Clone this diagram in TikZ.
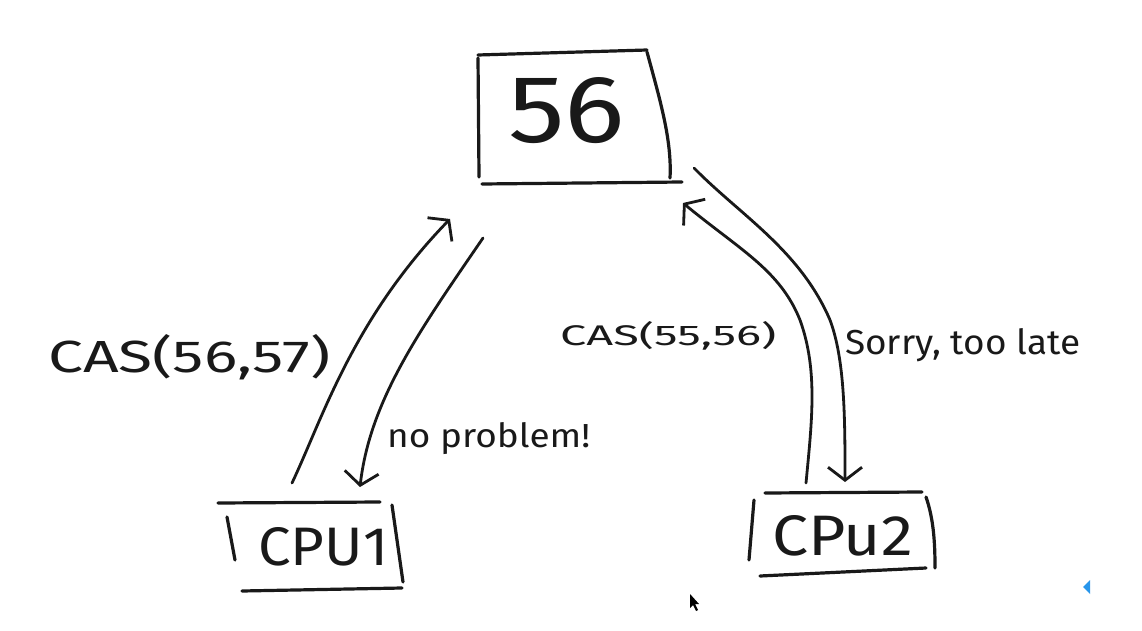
\documentclass[tikz,border=0pt]{standalone}
\usepackage{fontspec}
\setmainfont{Fira Sans}
\usetikzlibrary{arrows.meta}
\definecolor{markblue}{RGB}{40,150,235}
\begin{document}
\begin{tikzpicture}[x=1pt,y=-1pt,
  hand/.style={line width=3.2pt,line cap=round,line join=round,black!90},
  conn/.style={line width=2.8pt,line cap=round,black!90,
    -{Straight Barb[length=13pt,width=34pt,line width=2.8pt]}},
  txt/.style={anchor=base west,inner sep=0pt,text=black!90}]
\useasboundingbox (0,0) rectangle (1142,631);
\fill[white] (0,0) rectangle (1142,631);
% texts / nodes
\node[txt] (val) at (508,143) {\resizebox{117pt}{65pt}{56}};
\node[txt] (cpu1) at (258,565) {\resizebox{130pt}{38pt}{CPU1}};
\node[txt] (cpu2) at (772,555) {\resizebox{141pt}{40pt}{CPu2}};
\node[txt] (l1) at (48,372) {\resizebox{282pt}{38pt}{CAS(56,57)}};
\node[txt] (l2) at (387,447) {\resizebox{203pt}{25pt}{no problem!}};
\node[txt] (l3) at (560,345) {\resizebox{216pt}{24pt}{CAS(55,56)}};
\node[txt] (l4) at (845,354) {\resizebox{235pt}{26pt}{Sorry, too late}};
% hand-drawn boxes
\draw[hand] (478,55) -- (647,50);
\draw[hand] (478,58) -- (479,177);
\draw[hand] (647,52) .. controls (660,100) and (672,140) .. (670,178);
\draw[hand] (482,184) -- (682,182);
\draw[hand] (218,503) -- (380,502);
\draw[hand] (227,517) -- (235,560);
\draw[hand] (392,505) -- (403,582);
\draw[hand] (242,591) -- (402,588);
\draw[hand] (765,493) -- (922,492);
\draw[hand] (754,500) -- (749,560);
\draw[hand] (926,497) .. controls (934,520) and (935,545) .. (935,568);
\draw[hand] (760,576) -- (926,568);
% connector end points
\coordinate (a1s) at (292,483);
\coordinate (a1e) at (450,219);
\coordinate (a2s) at (483,238);
\coordinate (a2e) at (360,487);
\coordinate (a3s) at (806,483);
\coordinate (a3e) at (683,203);
\coordinate (a4s) at (694,168);
\coordinate (a4e) at (845,482);
% connectors
\draw[conn] (a1s) .. controls (322,420) and (352,320) .. (a1e);
\draw[conn] (a2s) .. controls (420,330) and (370,400) .. (a2e);
\draw[conn] (a3s) .. controls (812,420) and (818,370) .. (800,320)
  .. controls (780,270) and (740,250) .. (a3e);
\draw[conn] (a4s) .. controls (740,215) and (800,250) .. (830,320)
  .. controls (845,360) and (845,420) .. (a4e);
% cursor and small marker
\fill[black] (690,594) -- (690,608) -- (693,605) -- (696,611) -- (698,610) -- (695,604) -- (699,604) -- cycle;
\fill[markblue] (1090,580) -- (1083,587) -- (1090,594) -- cycle;
\end{tikzpicture}
\end{document}
